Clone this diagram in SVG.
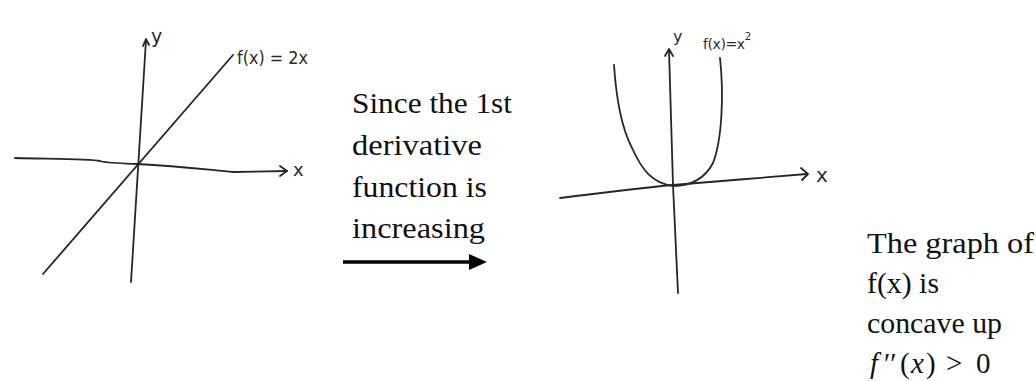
<svg xmlns="http://www.w3.org/2000/svg" width="1036" height="381" viewBox="0 0 1036 381">
<style>
.ink{fill:none;stroke:#262626;stroke-width:1.8;stroke-linecap:round;stroke-linejoin:round}
.hand{font-family:"DejaVu Sans","Liberation Sans",sans-serif;fill:#2a2a2a}
.body{font-family:"Liberation Serif","DejaVu Serif",serif;font-size:29px;fill:#111}
.it{font-style:italic}
</style>
<rect width="1036" height="381" fill="#ffffff"/>
<g id="graph-left">
  <path class="ink" d="M15,158 C50,159 90,159 100,161 C106,163 115,163 137,164 C180,166 210,170 233,172 L287,171"/>
  <path class="ink" d="M280,166 L287,171 L280,176"/>
  <path class="ink" d="M131,282 L146,40"/>
  <path class="ink" d="M143,46 L146,39 L149,45"/>
  <path class="ink" d="M43,274 L233,55"/>
  <text class="hand" x="151" y="43" font-size="19">y</text>
  <text class="hand" x="293" y="176" font-size="18">x</text>
  <text class="hand" x="237" y="64" font-size="18" textLength="71" lengthAdjust="spacingAndGlyphs">f(x) = 2x</text>
</g>
<g id="graph-right">
  <path class="ink" d="M560,198 C600,193 640,188 673,185 C720,181 760,178 807,174"/>
  <path class="ink" d="M801,168 L808,174 L802,180"/>
  <path class="ink" d="M678,293 L673,185 L669,50"/>
  <path class="ink" d="M665,56 L669,49 L673,56"/>
  <path class="ink" d="M614,65 C616,95 620,125 632,148 C642,170 652,183 673,186 C693,186 705,178 713,163 C722,140 724,95 720,58"/>
  <text class="hand" x="673" y="42" font-size="16">y</text>
  <text class="hand" x="816" y="182" font-size="20">x</text>
  <text class="hand" x="703" y="49" font-size="14" letter-spacing="-0.4">f(x)=x<tspan font-size="10" dy="-9">2</tspan></text>
</g>
<g id="text-middle">
  <text class="body" x="352" y="113" textLength="160" lengthAdjust="spacingAndGlyphs">Since the 1st</text>
  <text class="body" x="352" y="155" textLength="130" lengthAdjust="spacingAndGlyphs">derivative</text>
  <text class="body" x="352" y="197" textLength="135" lengthAdjust="spacingAndGlyphs">function is</text>
  <text class="body" x="352" y="238" textLength="133" lengthAdjust="spacingAndGlyphs">increasing</text>
</g>
<g id="text-right">
  <text class="body" x="867" y="253" textLength="167" lengthAdjust="spacingAndGlyphs">The graph of</text>
  <text class="body" x="867" y="293" textLength="72" lengthAdjust="spacingAndGlyphs">f(x) is</text>
  <text class="body" x="867" y="333" textLength="135" lengthAdjust="spacingAndGlyphs">concave up</text>
  <text class="body" y="373"><tspan class="it" x="870">f</tspan><tspan x="884">′′</tspan><tspan x="900">(</tspan><tspan class="it" x="911">x</tspan><tspan x="926">)</tspan><tspan x="946">&gt;</tspan><tspan x="976">0</tspan></text>
</g>
<g id="connectors">
  <line x1="343" y1="262" x2="472" y2="262" stroke="#000" stroke-width="3.5"/>
  <polygon points="469,254 487,262 469,270" fill="#000"/>
</g>
</svg>
